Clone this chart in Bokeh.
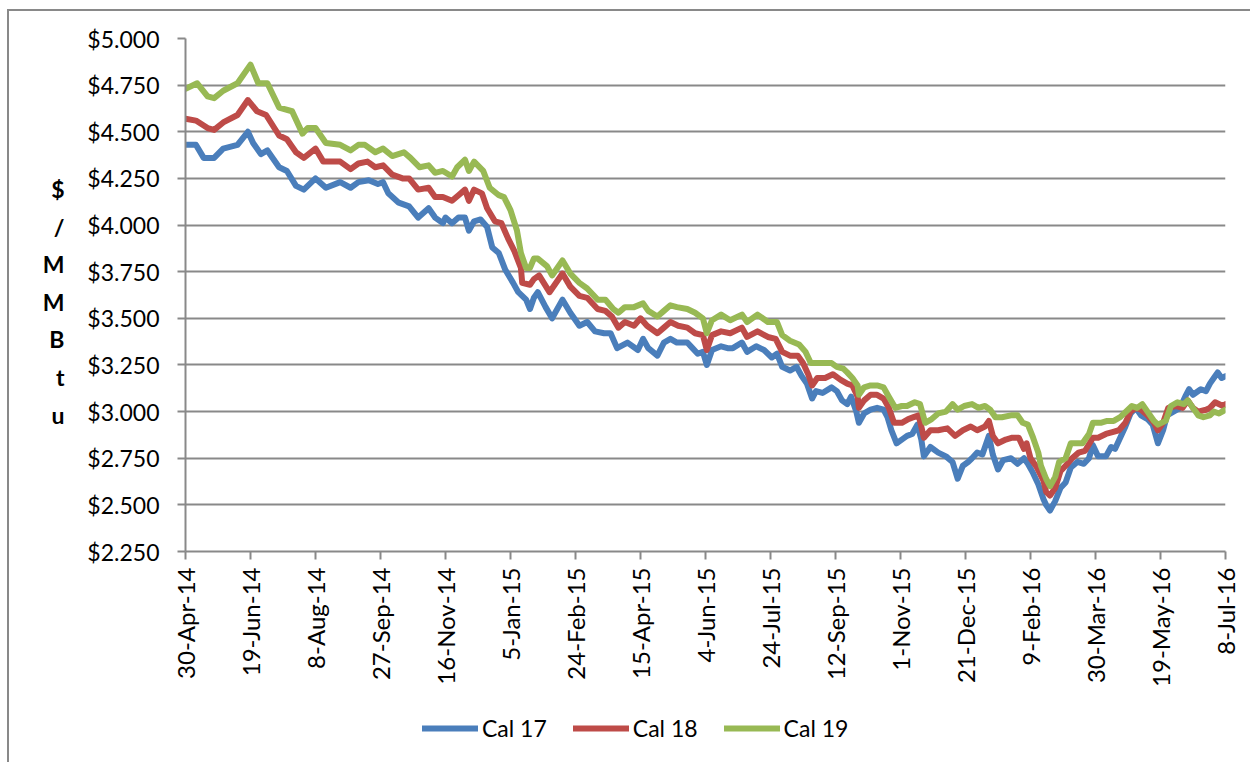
from datetime import datetime, timedelta

from bokeh.embed import file_html
from bokeh.layouts import column
from bokeh.models import (ColumnDataSource, DatetimeTickFormatter, FixedTicker, Legend,
                          LegendItem, LinearAxis, NumeralTickFormatter, Range1d)
from bokeh.plotting import figure
from bokeh.resources import INLINE

# Forward-strip natural gas prices, $/MMBtu, by calendar-year strip.
# Observation dates are given as day offsets from the first trade date.
start_date = datetime(2014, 4, 30)
end_date = datetime(2016, 7, 8)

cal17_day = [0, 8, 14, 22, 29, 40, 48, 52, 58, 63, 72, 78, 85, 91, 100, 108, 119, 127, 133,
             141, 148, 152, 156, 164, 172, 179, 187, 192, 198, 200, 205, 210, 215, 218, 222,
             227, 232, 236, 241, 246, 252, 256, 262, 265, 268, 271, 277, 282, 290, 296, 303,
             309, 315, 322, 327, 332, 340, 348, 352, 356, 363, 368, 373, 378, 386, 390, 394,
             398, 401, 405, 412, 417, 421, 428, 432, 439, 445, 451, 455, 459, 465, 470, 474,
             478, 482, 485, 490, 497, 501, 505, 509, 512, 516, 518, 522, 527, 532, 537, 540,
             543, 547, 551, 555, 559, 563, 566, 568, 573, 579, 585, 590, 594, 598, 602, 605,
             609, 613, 618, 621, 625, 629, 635, 640, 645, 648, 652, 656, 660, 662, 665, 669,
             673, 677, 681, 686, 691, 695, 698, 702, 708, 712, 715, 719, 723, 727, 731, 735,
             740, 744, 746, 748, 752, 755, 760, 765, 769, 772, 775, 781, 785, 788, 791, 794,
             797, 800]
cal17_price = [4.43, 4.43, 4.36, 4.36, 4.41, 4.43, 4.50, 4.44, 4.38, 4.40, 4.31, 4.29, 4.21,
               4.19, 4.25, 4.20, 4.23, 4.20, 4.23, 4.24, 4.22, 4.23, 4.17, 4.12, 4.10, 4.04,
               4.09, 4.04, 4.01, 4.04, 4.01, 4.04, 4.04, 3.97, 4.02, 4.03, 3.99, 3.88, 3.85,
               3.76, 3.69, 3.64, 3.60, 3.55, 3.61, 3.64, 3.56, 3.50, 3.60, 3.53, 3.46, 3.48,
               3.43, 3.42, 3.42, 3.34, 3.37, 3.33, 3.39, 3.34, 3.30, 3.37, 3.39, 3.37, 3.37,
               3.34, 3.31, 3.32, 3.25, 3.33, 3.35, 3.34, 3.34, 3.37, 3.32, 3.35, 3.33, 3.29,
               3.31, 3.24, 3.22, 3.24, 3.19, 3.15, 3.07, 3.11, 3.10, 3.13, 3.11, 3.06, 3.04,
               3.08, 3.00, 2.94, 2.99, 3.01, 3.02, 3.01, 2.97, 2.90, 2.83, 2.85, 2.87, 2.88,
               2.93, 2.85, 2.76, 2.81, 2.78, 2.76, 2.73, 2.64, 2.71, 2.73, 2.75, 2.78, 2.77,
               2.87, 2.77, 2.69, 2.74, 2.75, 2.72, 2.75, 2.72, 2.67, 2.61, 2.53, 2.50, 2.47,
               2.52, 2.59, 2.62, 2.70, 2.73, 2.72, 2.75, 2.82, 2.76, 2.76, 2.81, 2.80, 2.86,
               2.92, 2.99, 3.02, 2.98, 2.96, 2.93, 2.88, 2.83, 2.90, 2.98, 3.00, 3.02, 3.08,
               3.12, 3.09, 3.12, 3.11, 3.15, 3.18, 3.21, 3.18, 3.19]

cal18_day = [0, 8, 17, 22, 29, 40, 48, 55, 62, 72, 78, 85, 91, 100, 106, 119, 127, 133, 140,
             146, 152, 159, 167, 172, 179, 187, 192, 198, 205, 210, 215, 218, 222, 228, 232,
             238, 243, 248, 253, 258, 259, 265, 268, 272, 280, 284, 290, 296, 303, 309, 317,
             323, 328, 333, 338, 345, 350, 355, 363, 368, 373, 379, 386, 392, 398, 401, 405,
             412, 419, 428, 432, 440, 448, 454, 459, 465, 471, 475, 479, 482, 486, 492, 498,
             504, 509, 513, 517, 518, 522, 527, 532, 537, 541, 545, 551, 556, 560, 564, 568,
             573, 579, 586, 592, 598, 604, 609, 615, 618, 621, 625, 631, 636, 641, 645, 647,
             650, 655, 660, 662, 665, 669, 673, 677, 682, 687, 692, 698, 702, 708, 713, 718,
             723, 727, 731, 735, 740, 745, 748, 752, 756, 762, 767, 771, 775, 779, 785, 788,
             792, 798, 800]
cal18_price = [4.57, 4.56, 4.52, 4.51, 4.55, 4.59, 4.67, 4.61, 4.59, 4.48, 4.46, 4.39, 4.36,
               4.41, 4.34, 4.34, 4.30, 4.33, 4.34, 4.31, 4.32, 4.27, 4.25, 4.25, 4.19, 4.20,
               4.15, 4.15, 4.13, 4.16, 4.19, 4.13, 4.19, 4.17, 4.09, 4.02, 4.01, 3.93, 3.86,
               3.77, 3.69, 3.68, 3.71, 3.73, 3.64, 3.68, 3.74, 3.67, 3.62, 3.61, 3.55, 3.54,
               3.51, 3.45, 3.48, 3.46, 3.50, 3.46, 3.42, 3.45, 3.48, 3.46, 3.45, 3.42, 3.41,
               3.33, 3.41, 3.43, 3.42, 3.45, 3.40, 3.43, 3.40, 3.39, 3.32, 3.30, 3.30, 3.26,
               3.20, 3.14, 3.18, 3.18, 3.20, 3.17, 3.15, 3.14, 3.08, 3.02, 3.06, 3.09, 3.09,
               3.07, 3.02, 2.94, 2.94, 2.96, 2.97, 2.98, 2.86, 2.90, 2.90, 2.91, 2.87, 2.90,
               2.92, 2.90, 2.92, 2.95, 2.87, 2.83, 2.85, 2.86, 2.86, 2.80, 2.83, 2.75, 2.70,
               2.63, 2.57, 2.55, 2.59, 2.68, 2.71, 2.75, 2.78, 2.79, 2.86, 2.86, 2.88, 2.89,
               2.90, 2.94, 3.00, 3.02, 3.01, 2.98, 2.94, 2.90, 2.94, 3.02, 3.03, 3.02, 3.06,
               3.02, 3.00, 3.01, 3.02, 3.05, 3.03, 3.04]

cal19_day = [0, 9, 17, 22, 29, 40, 50, 56, 63, 72, 82, 90, 94, 100, 108, 119, 127, 133, 138,
             146, 152, 159, 168, 173, 180, 187, 192, 198, 205, 209, 215, 218, 222, 229, 234,
             241, 245, 250, 255, 258, 262, 265, 268, 271, 278, 282, 290, 296, 303, 309, 317,
             323, 329, 333, 338, 345, 352, 356, 363, 368, 373, 378, 386, 392, 398, 401, 405,
             412, 419, 428, 432, 440, 448, 455, 459, 465, 472, 477, 481, 485, 490, 497, 501,
             506, 509, 513, 517, 518, 522, 527, 532, 537, 541, 546, 551, 555, 561, 565, 569,
             574, 579, 585, 590, 594, 599, 605, 610, 615, 619, 623, 628, 635, 640, 644, 648,
             652, 656, 658, 662, 665, 669, 672, 677, 681, 686, 690, 695, 698, 704, 709, 714,
             719, 725, 728, 732, 736, 740, 745, 748, 754, 758, 763, 768, 771, 775, 779, 783,
             788, 791, 795, 800]
cal19_price = [4.73, 4.76, 4.69, 4.68, 4.72, 4.76, 4.86, 4.76, 4.76, 4.63, 4.61, 4.49, 4.52,
               4.52, 4.44, 4.43, 4.40, 4.43, 4.43, 4.39, 4.41, 4.37, 4.39, 4.36, 4.31, 4.32,
               4.28, 4.29, 4.26, 4.31, 4.35, 4.29, 4.34, 4.29, 4.20, 4.16, 4.15, 4.08, 3.97,
               3.85, 3.77, 3.77, 3.82, 3.82, 3.78, 3.73, 3.81, 3.74, 3.69, 3.66, 3.60, 3.60,
               3.55, 3.53, 3.56, 3.56, 3.58, 3.54, 3.51, 3.54, 3.57, 3.56, 3.55, 3.53, 3.50,
               3.42, 3.49, 3.52, 3.49, 3.52, 3.48, 3.52, 3.48, 3.48, 3.41, 3.38, 3.36, 3.32,
               3.26, 3.26, 3.26, 3.26, 3.24, 3.23, 3.21, 3.18, 3.14, 3.09, 3.13, 3.14, 3.14,
               3.13, 3.08, 3.02, 3.03, 3.03, 3.05, 3.04, 2.94, 2.96, 2.99, 3.00, 3.04, 3.01,
               3.03, 3.04, 3.02, 3.03, 3.01, 2.97, 2.97, 2.98, 2.98, 2.94, 2.93, 2.86, 2.78,
               2.71, 2.64, 2.60, 2.65, 2.73, 2.75, 2.83, 2.83, 2.83, 2.88, 2.94, 2.94, 2.95,
               2.95, 2.97, 3.01, 3.03, 3.02, 3.04, 3.00, 2.95, 2.93, 2.95, 3.03, 3.05, 3.04,
               3.06, 3.02, 2.98, 2.97, 2.98, 3.00, 2.99, 3.01]

series_names = ["Cal 17", "Cal 18", "Cal 19"]
series_colors = ["#4A7EBB", "#BE4B48", "#98B954"]
price_ticks = [2.25, 2.50, 2.75, 3.00, 3.25, 3.50, 3.75, 4.00, 4.25, 4.50, 4.75, 5.00]
date_tick_step_days = 50
y_label_chars = ["$", "/", "M", "M", "B", "t", "u"]

FONT = "Lato"
GRID = "#898989"

# the chart area starts 9px right / 11px down inside the page (after its border)
AREA_W, AREA_H = 1241, 751
MAIN_H = 690
LEGEND_H = AREA_H - MAIN_H


def to_ms(d):
    return (d - datetime(1970, 1, 1)).total_seconds() * 1000.0


p = figure(width=AREA_W, height=MAIN_H, output_backend="svg",
           toolbar_location=None, x_axis_type="datetime",
           x_range=Range1d(start_date, end_date), y_range=Range1d(2.25, 5.0),
           min_border_left=176, min_border_right=25,
           min_border_top=27, min_border_bottom=MAIN_H - 540)
p.outline_line_color = None
p.background_fill_color = "white"
p.border_fill_color = "white"

# gridlines and axes
p.xgrid.grid_line_color = None
p.ygrid.grid_line_color = GRID
p.ygrid.grid_line_width = 2

p.yaxis.ticker = FixedTicker(ticks=price_ticks)
p.yaxis.formatter = NumeralTickFormatter(format="$0.000")

date_ticks = []
d = start_date
while d <= end_date:
    date_ticks.append(to_ms(d))
    d += timedelta(days=date_tick_step_days)
p.xaxis.ticker = FixedTicker(ticks=date_ticks)
fmt = "%-d-%b-%y"
p.xaxis.formatter = DatetimeTickFormatter(milliseconds=fmt, seconds=fmt, minsec=fmt,
                                          minutes=fmt, hourmin=fmt, hours=fmt, days=fmt,
                                          months=fmt, years=fmt)
p.xaxis.major_label_orientation = 3.14159265 / 2

for ax in (p.xaxis[0], p.yaxis[0]):
    ax.axis_line_color = GRID
    ax.axis_line_width = 2
    ax.major_tick_line_color = GRID
    ax.major_tick_line_width = 2
    ax.major_tick_out = 8
    ax.major_tick_in = 0
    ax.minor_tick_line_color = None
    ax.major_label_text_font = FONT
    ax.major_label_text_color = "black"
p.yaxis.major_label_text_font_size = "23px"
p.xaxis.major_label_text_font_size = "24px"
p.yaxis.major_label_standoff = 18
p.xaxis.major_label_standoff = 8

# stacked "$/MMBtu" title: an unlined axis whose range counts pixels down from the top
p.extra_y_ranges = {"title": Range1d(start=513, end=0)}
title_pos = [150, 188, 225, 263, 300, 338, 376]
title_axis = LinearAxis(y_range_name="title", ticker=FixedTicker(ticks=title_pos),
                        major_label_overrides={t: c for t, c in zip(title_pos, y_label_chars)},
                        axis_line_color=None, major_tick_line_color=None,
                        minor_tick_line_color=None, major_label_standoff=14,
                        major_label_text_font=FONT, major_label_text_font_style="bold",
                        major_label_text_font_size="23px",
                        major_label_text_color="black")
p.add_layout(title_axis, "left")

# price lines
series = [(cal17_day, cal17_price), (cal18_day, cal18_price), (cal19_day, cal19_price)]
sources = []
for (days, prices), name, color in zip(series, series_names, series_colors):
    src = ColumnDataSource(dict(date=[start_date + timedelta(days=k) for k in days],
                                price=prices))
    sources.append(src)
    p.line("date", "price", source=src, line_color=color, line_width=6,
           line_join="round", line_cap="round")

# legend strip below the chart; its keys reuse the series sources (outside its view)
leg = figure(width=AREA_W, height=LEGEND_H, output_backend="svg", toolbar_location=None,
             x_range=Range1d(0, 1), y_range=Range1d(0, 1),
             x_axis_location=None, y_axis_location=None, min_border=0)
leg.outline_line_color = None
leg.grid.visible = False
items = []
for src, name, color in zip(sources, series_names, series_colors):
    r = leg.line("date", "price", source=src, line_color=color, line_width=6,
                 line_cap="round")
    items.append(LegendItem(label=name, renderers=[r]))
legend = Legend(items=items, orientation="horizontal", location=(237, 20),
                glyph_width=56, glyph_height=20, label_standoff=4, spacing=26,
                padding=0, margin=0, border_line_color=None,
                background_fill_alpha=0, label_text_font=FONT,
                label_text_font_size="23px", label_text_color="black")
leg.add_layout(legend, "center")

page = column(p, leg, spacing=0,
              styles={"margin-left": "7px", "margin-top": "9px",
                      "border-left": f"2px solid {GRID}",
                      "border-top": f"2px solid {GRID}"})

open("out.html", "w").write(file_html(page, INLINE))
